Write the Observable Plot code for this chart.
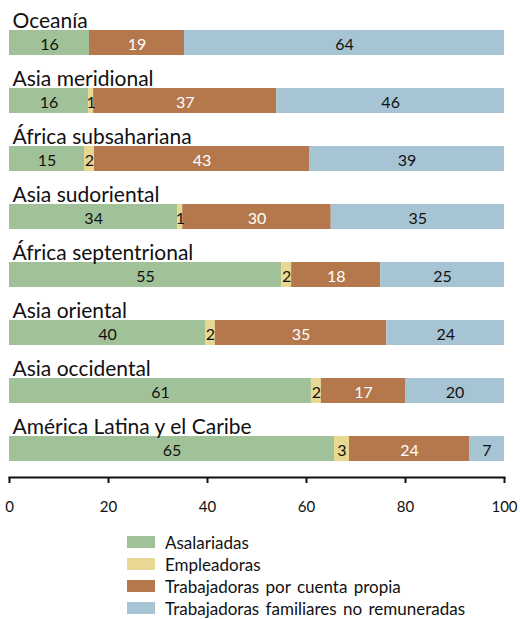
<!DOCTYPE html>
<html>
<head>
<meta charset="utf-8">
<script src="https://cdn.jsdelivr.net/npm/d3@7"></script>
<script src="https://cdn.jsdelivr.net/npm/@observablehq/plot@0.6"></script>
<style>
  body { margin: 0; background: #fff; font-family: Lato, "Open Sans", sans-serif; }
  #legend { margin-left: 127px; font-size: 17px; color: #111; word-spacing: 2px; }
  #legend .row { display: flex; align-items: center; height: 22px; }
  #legend .sw { width: 28px; height: 12px; margin-right: 10px; flex: none; }
</style>
</head>
<body>
<div id="chart"></div>
<div id="legend"></div>
<script>
const regions = ["Oceanía", "Asia meridional", "África subsahariana", "Asia sudoriental",
  "África septentrional", "Asia oriental", "Asia occidental", "América Latina y el Caribe"];
const seriesNames = ["Asalariadas", "Empleadoras", "Trabajadoras por cuenta propia", "Trabajadoras familiares no remuneradas"];
const seriesColors = ["#a1c298", "#e9d892", "#b5774c", "#a7c4d4"];
const labelColors = ["#111", "#111", "#fff", "#111"];
const asalariadas  = [16, 16, 15, 34, 55, 40, 61, 65];
const empleadoras  = [0, 1, 2, 1, 2, 2, 2, 3];
const cuentaPropia = [19, 37, 43, 30, 18, 35, 17, 24];
const familiares   = [64, 46, 39, 35, 25, 24, 20, 7];
const xTicks = [0, 20, 40, 60, 80, 100];

const series = [asalariadas, empleadoras, cuentaPropia, familiares];
const data = [];
regions.forEach((r, i) => {
  series.forEach((s, j) => {
    data.push({region: r, serie: seriesNames[j], value: s[i], k: j});
  });
});

const W = 520, H = 531;
const stackOpts = {y: "region", x: "value", z: "serie", order: seriesNames, offset: "normalize"};

const chart = Plot.plot({
  width: W,
  height: H,
  marginLeft: 9,
  marginRight: 16,
  marginTop: 0,
  marginBottom: 54,
  style: {fontFamily: "Lato, 'Open Sans', sans-serif", background: "#fff"},
  x: {domain: [0, 1], ticks: xTicks.map(d => d / 100), tickFormat: d => String(Math.round(d * 100))},
  y: {domain: regions, range: [30, 461], paddingInner: 33 / 58, paddingOuter: 0, axis: null},
  color: {domain: seriesNames, range: seriesColors},
  marks: [
    Plot.barX(data, Plot.stackX({...stackOpts, fill: "serie"})),
    Plot.text(data.filter(d => d.value > 0), Plot.stackX({
      ...stackOpts,
      text: d => String(d.value),
      fill: d => labelColors[d.k],
      fontSize: 16,
      dy: 2
    })),
    Plot.text(regions, {
      x: 0, y: d => d, text: d => d,
      textAnchor: "start", dx: 3, dy: -22.2,
      fontSize: 21, fill: "#111", wordSpacing: "-2px"
    }),
    Plot.frame({anchor: "bottom", stroke: "#111", strokeWidth: 2}),
    Plot.axisX({
      ticks: xTicks.map(d => d / 100),
      tickFormat: d => String(Math.round(d * 100)),
      tickSize: 6, tickPadding: 18, strokeWidth: 2,
      fontSize: 15, label: null, fill: "#111", stroke: "#111"
    })
  ]
});
chart.querySelectorAll("text").forEach(t => {
  if (t.getAttribute("font-size") === "21") t.style.wordSpacing = "-2px";
});
document.getElementById("chart").appendChild(chart);

const legend = document.getElementById("legend");
seriesNames.forEach((n, i) => {
  const row = document.createElement("div");
  row.className = "row";
  const sw = document.createElement("div");
  sw.className = "sw";
  sw.style.background = seriesColors[i];
  const t = document.createElement("span");
  t.textContent = n;
  row.appendChild(sw);
  row.appendChild(t);
  legend.appendChild(row);
});
</script>
</body>
</html>
